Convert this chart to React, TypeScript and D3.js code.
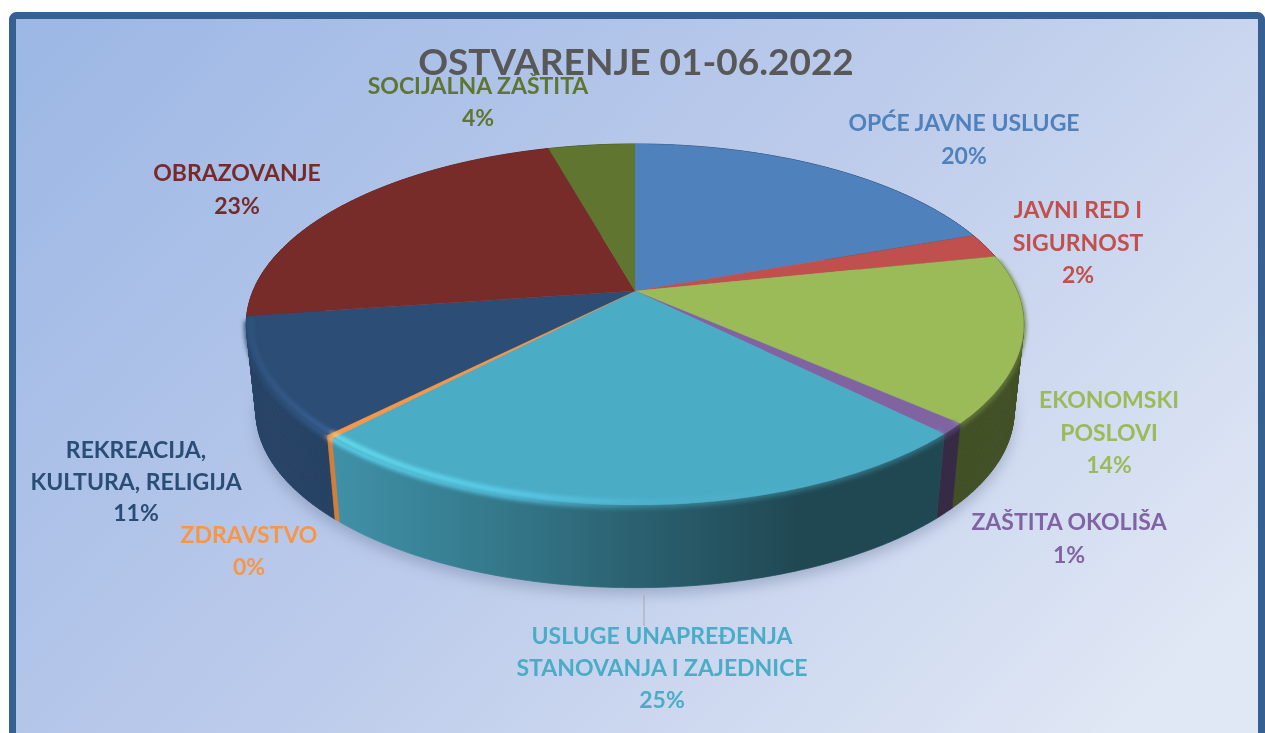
import React from "react";
import * as d3 from "d3";

const categories = ["OPĆE JAVNE USLUGE", "JAVNI RED I SIGURNOST", "EKONOMSKI POSLOVI", "ZAŠTITA OKOLIŠA", "USLUGE UNAPREĐENJA STANOVANJA I ZAJEDNICE", "ZDRAVSTVO", "REKREACIJA, KULTURA, RELIGIJA", "OBRAZOVANJE", "SOCIJALNA ZAŠTITA"];
const sliceValues = [19.5, 2.2, 14.9, 1.0, 24.4, 0.3, 10.5, 22.9, 4.3];
const percentLabels = ["20%", "2%", "14%", "1%", "25%", "0%", "11%", "23%", "4%"];
const labelLines = [["OPĆE JAVNE USLUGE"], ["JAVNI RED I", "SIGURNOST"], ["EKONOMSKI", "POSLOVI"], ["ZAŠTITA OKOLIŠA"], ["USLUGE UNAPREĐENJA", "STANOVANJA I ZAJEDNICE"], ["ZDRAVSTVO"], ["REKREACIJA,", "KULTURA, RELIGIJA"], ["OBRAZOVANJE"], ["SOCIJALNA ZAŠTITA"]];
const title = "OSTVARENJE 01-06.2022";

const faceColors = ["#4f81bd", "#c0504d", "#9bbb59", "#8064a2", "#4bacc6", "#f79646", "#2c4d75", "#772c2a", "#5f7530"];
const labelX = [964, 1078, 1109, 1069, 662, 249, 136, 237, 478];
const labelY = [131, 218, 408, 530, 644, 543, 458, 181, 94];
const lineStep = [33, 32.5, 32.5, 33, 32, 32, 31.5, 33, 32];

const cx = 635;
const a = 382;
const b = 174.3;
const k = 0.1856;
const y0Top = 291;
const y0Bottom = 379;
const sBottom = 0.975;

type P = [number, number];
const project = (ang: number, y0: number, s: number, r = 1): P => {
  const u = Math.sin(ang) * r;
  const v = Math.cos(ang) * r;
  const d = 1 + k * v;
  return [cx + (s * a * u) / d, y0 - (s * b * v) / d];
};

const pie = d3.pie<number>().sort(null).value((d) => d);
const arcs = pie(sliceValues);
const line = d3.line<P>();

const xStops = [246, 340, 520, 640, 800, 1023];
const wallF = [0.86, 0.84, 0.68, 0.56, 0.42, 0.42];
const lightF = [1.1, 1.42, 1.25, 1.06, 1.0, 1.0];
const midF = [0.95, 1.3, 1.15, 0.75, 0.66, 0.66];
const xMin = xStops[0];
const xMax = xStops[xStops.length - 1];

const scaleColor = (c: string, f: number) => {
  const r = d3.rgb(c);
  return d3.rgb(Math.min(255, r.r * f), Math.min(255, r.g * f), Math.min(255, r.b * f)).formatHex();
};

const stepsOf = (s: number, e: number) => {
  const n = Math.max(2, Math.ceil((e - s) / 0.01));
  return d3.range(n + 1).map((i) => s + ((e - s) * i) / n);
};

const Grad = ({ id, color, factors }: { id: string; color: string; factors: number[] }) => (
  <linearGradient id={id} gradientUnits="userSpaceOnUse" x1={xMin} x2={xMax} y1={0} y2={0}>
    {xStops.map((x, i) => (
      <stop key={x} offset={(x - xMin) / (xMax - xMin)} stopColor={scaleColor(color, factors[i])} />
    ))}
  </linearGradient>
);

// front part of a slice's rim: the part whose wall can be seen
const frontSteps = (s: number, e: number) => {
  const lo = Math.max(s, Math.PI * 0.44);
  const hi = Math.min(e, Math.PI * 1.45);
  return hi > lo ? stepsOf(lo, hi) : null;
};

const wallPaths = (s: number, e: number) => {
  const ts = stepsOf(s, e);
  if (s > Math.PI * 0.6 && e < Math.PI * 1.4) {
    const outline: P[] = [...ts.map((t) => project(t, y0Top, 1)), ...ts.slice().reverse().map((t) => project(t, y0Bottom, sBottom))];
    return [line(outline)! + "Z"];
  }
  return ts.slice(0, -1).map((t, j) => line([project(t, y0Top, 1), project(ts[j + 1], y0Top, 1), project(ts[j + 1], y0Bottom, sBottom), project(t, y0Bottom, sBottom)])! + "Z");
};

export default function App() {
  const full = stepsOf(0, Math.PI * 2);
  const bottomOutline = line(full.map((t) => project(t, y0Bottom, sBottom)))! + "Z";
  // walls are painted from the back of the pie to its front
  const wallOrder = d3.range(arcs.length).sort(
    (p, q) => Math.cos((arcs[q].startAngle + arcs[q].endAngle) / 2) - Math.cos((arcs[p].startAngle + arcs[p].endAngle) / 2)
  );
  return (
    <svg width={1265} height={733} style={{ position: "fixed", left: 0, top: 0, display: "block", background: "#fff" }} fontFamily="Lato, 'Open Sans', sans-serif">
      <defs>
        <linearGradient id="bg" gradientUnits="userSpaceOnUse" x1={120} y1={-40} x2={1040} y2={840}>
          <stop offset="0" stopColor="#9db8e5" />
          <stop offset="0.5" stopColor="#bccbeb" />
          <stop offset="1" stopColor="#e1e8f5" />
        </linearGradient>
        <filter id="shadowBlur" x="-10%" y="-20%" width="120%" height="140%"><feGaussianBlur stdDeviation="7" /></filter>
        <filter id="rimBlur" x="-5%" y="-5%" width="110%" height="110%"><feGaussianBlur stdDeviation="1.9" /></filter>
        <filter id="textSoft"><feGaussianBlur stdDeviation="0.3" /></filter>
        {faceColors.map((c, i) => (
          <React.Fragment key={i}>
            <Grad id={`wall${i}`} color={c} factors={wallF} />
            <Grad id={`light${i}`} color={c} factors={lightF} />
            <Grad id={`mid${i}`} color={c} factors={midF} />
          </React.Fragment>
        ))}
      </defs>
      <rect x={12.5} y={15.5} width={1249} height={740} rx={4} fill="url(#bg)" stroke="#366092" strokeWidth={7} />
      <path d={bottomOutline} fill="#5a6a8c" opacity={0.36} filter="url(#shadowBlur)" transform="translate(0,7)" />
      {/* side wall */}
      <g>
        {wallOrder.map((i) => (
          <g key={i} fill={`url(#wall${i})`} stroke={`url(#wall${i})`} strokeWidth={0.8}>
            {wallPaths(arcs[i].startAngle, arcs[i].endAngle).map((d, j) => <path key={j} d={d} />)}
          </g>
        ))}
      </g>
      {/* soft transition from wall to face */}
      <g filter="url(#rimBlur)">
        {arcs.map((arc, i) => {
          const ts = frontSteps(arc.startAngle, arc.endAngle);
          if (!ts) return null;
          return <path key={i} d={line(ts.map((t) => project(t, y0Top + 1.5, 1)))!} stroke={`url(#mid${i})`} strokeWidth={4} fill="none" />;
        })}
      </g>
      {/* top faces */}
      <g>
        {arcs.map((arc, i) => {
          const pts: P[] = [[cx, y0Top], ...stepsOf(arc.startAngle, arc.endAngle).map((t) => project(t, y0Top, 1))];
          return <path key={i} d={line(pts)! + "Z"} fill={faceColors[i]} stroke={faceColors[i]} strokeWidth={faceColors[i] === "#f79646" ? 0.8 : 0.3} />;
        })}
      </g>
      {/* bevel highlight inside the rim */}
      <g filter="url(#rimBlur)">
        {arcs.map((arc, i) => {
          const ts = frontSteps(arc.startAngle, arc.endAngle);
          if (!ts) return null;
          return <path key={i} d={line(ts.map((t) => project(t, y0Top, 1, 0.988)))!} stroke={`url(#light${i})`} strokeWidth={3.5} fill="none" />;
        })}
      </g>
      <line x1={644} x2={644} y1={595} y2={626} stroke="#a6a6a6" strokeWidth={1} />
      <text x={636} y={75} textAnchor="middle" fontSize={37} fontWeight={700} fill="#595959" filter="url(#textSoft)">{title}</text>
      {categories.map((name, i) => {
        const rows = [...labelLines[i], percentLabels[i]];
        return (
          <text key={name} textAnchor="middle" fontSize={23} fontWeight={700} fill={faceColors[i]} filter="url(#textSoft)">
            {rows.map((row, r) => (
              <tspan key={r} x={labelX[i]} y={labelY[i] + r * lineStep[i]}>{row}</tspan>
            ))}
          </text>
        );
      })}
    </svg>
  );
}
